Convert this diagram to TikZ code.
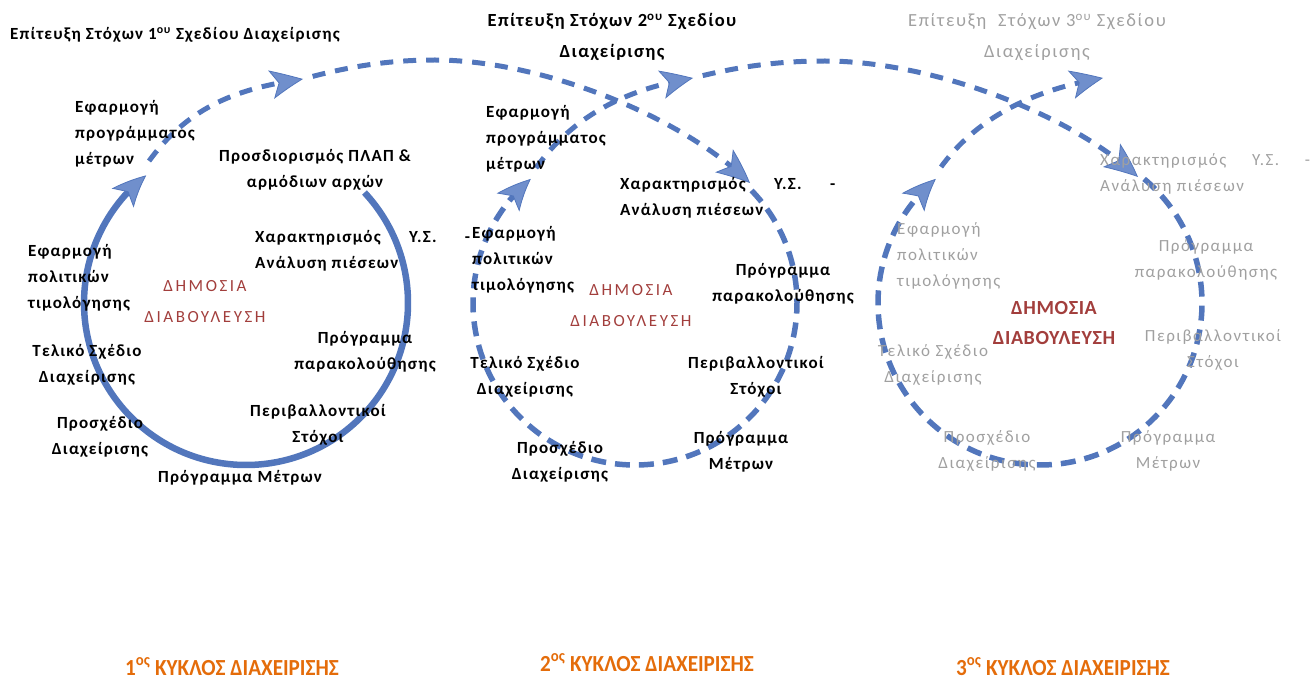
\documentclass[tikz,border=0pt]{standalone}
\usepackage{fontspec}
\setmainfont{Carlito}
\newfontfamily\widefont[LetterSpace=7]{Carlito}
\newfontfamily\thinfont[LetterSpace=9]{Carlito}
\newfontfamily\pubfont[LetterSpace=15]{Carlito}
\newfontfamily\boldpubfont[LetterSpace=3]{Carlito}
\usetikzlibrary{arrows.meta,bending}

\definecolor{ringblue}{RGB}{82,118,188}
\definecolor{tipblue}{RGB}{112,143,204}
\definecolor{pubred}{RGB}{162,62,60}
\definecolor{fadedgray}{RGB}{160,160,160}
\definecolor{cycorange}{RGB}{228,108,10}

\tikzset{
  txt/.style={font=\widefont\bfseries\fontsize{17}{26}\selectfont, inner sep=0pt, align=center},
  txtL/.style={txt, align=left, anchor=west},
  goal/.style={txt, font=\widefont\bfseries\fontsize{18.5}{31}\selectfont},
  faded/.style={text=fadedgray, font=\thinfont\mdseries\fontsize{17}{26}\selectfont},
  fadedgoal/.style={text=fadedgray, font=\thinfont\mdseries\fontsize{18.5}{31}\selectfont},
  public/.style={txt, font=\pubfont\mdseries\fontsize{17}{31}\selectfont, text=pubred},
  cyclename/.style={font=\bfseries\fontsize{23}{23}\selectfont, text=cycorange, inner sep=0pt, anchor=base},
  bigtip/.style={-{Stealth[length=33pt,width=29pt,inset=8pt,line width=0.8pt,fill=tipblue,bend]}},
  solidring/.style={ringblue, line width=6.5pt},
  dashring/.style={ringblue, line width=5.5pt, dash pattern=on 15pt off 9pt},
  bridge/.style={ringblue, line width=5pt, dash pattern=on 13pt off 10pt},
}

\begin{document}
\begin{tikzpicture}[x=1pt,y=-1pt]
\useasboundingbox (0,0) rectangle (1315,679);

% centres of the three cycles
\coordinate (c1) at (246,303);
\coordinate (c2) at (635,303);
\coordinate (c3) at (1040,303);

% the cycles
\draw[solidring, bigtip] (c1) ++(-43:162) arc[start angle=-43, end angle=232, radius=162];
\draw[dashring, bigtip] (c2) ++(-44:162) arc[start angle=-44, end angle=230, radius=162];
\draw[dashring, bigtip] (c3) ++(-50:162) arc[start angle=-50, end angle=230, radius=162];

% from one cycle to the next
\coordinate (s1) at (149,161);
\coordinate (m1) at (303,79);
\coordinate (p1) at (435,60);
\coordinate (j2) at (750,183);
\coordinate (s2) at (536,168);
\coordinate (m2) at (693,78);
\coordinate (p2) at (825,61);
\coordinate (j3) at (1138,177);
\coordinate (s3) at (941,167);
\coordinate (m3) at (1103,78);

\draw[bridge, bigtip] (s1) .. controls (190,105) and (240,88) .. (m1);
\draw[bridge, bigtip, dash phase=13pt] (m1) .. controls (350,66) and (390,60) .. (p1)
  .. controls (540,60) and (680,115) .. (j2);
\draw[bridge, bigtip] (s2) .. controls (570,120) and (620,90) .. (m2);
\draw[bridge, bigtip, dash phase=13pt] (m2) .. controls (740,66) and (780,61) .. (p2)
  .. controls (930,61) and (1070,113) .. (j3);
\draw[bridge, bigtip] (s3) .. controls (975,120) and (1030,90) .. (m3);

% 1st cycle
\node[txtL] (goal1) at (10,35) {Επίτευξη Στόχων 1\textsuperscript{ου} Σχεδίου Διαχείρισης};
\node[txtL] (mp1) at (75,134) {Εφαρμογή\\προγράμματος\\μέτρων};
\node[txt] (pl1) at (315,170) {Προσδιορισμός ΠΛΑΠ \&\\αρμόδιων αρχών};
\node[txtL] (xa1) at (255,251) {\makebox[215pt][s]{Χαρακτηρισμός Υ.Σ. -}\\Ανάλυση πιέσεων};
\node[txtL] (tp1) at (28,278) {Εφαρμογή\\πολιτικών\\τιμολόγησης};
\node[public] (dd1) at (205,302) {ΔΗΜΟΣΙΑ\\ΔΙΑΒΟΥΛΕΥΣΗ};
\node[txt] (pp1) at (365,352) {Πρόγραμμα\\παρακολούθησης};
\node[txt] (ts1) at (87,365) {Τελικό Σχέδιο\\Διαχείρισης};
\node[txt] (ps1) at (318,425) {Περιβαλλοντικοί\\Στόχοι};
\node[txt] (pr1) at (100,437) {Προσχέδιο\\Διαχείρισης};
\node[txt] (pm1) at (240,478) {Πρόγραμμα Μέτρων};

% 2nd cycle
\node[goal] (goal2) at (612,37) {Επίτευξη Στόχων 2\textsuperscript{ου} Σχεδίου\\Διαχείρισης};
\node[txtL] (mp2) at (486,139) {Εφαρμογή\\προγράμματος\\μέτρων};
\node[txtL] (xa2) at (620,198) {\makebox[215pt][s]{Χαρακτηρισμός Υ.Σ. -}\\Ανάλυση πιέσεων};
\node[txtL] (tp2) at (472,260) {Εφαρμογή\\πολιτικών\\τιμολόγησης};
\node[public] (dd2) at (631,306) {ΔΗΜΟΣΙΑ\\ΔΙΑΒΟΥΛΕΥΣΗ};
\node[txt] (pp2) at (783,284) {Πρόγραμμα\\παρακολούθησης};
\node[txt] (ts2) at (525,377) {Τελικό Σχέδιο\\Διαχείρισης};
\node[txt] (ps2) at (756,377) {Περιβαλλοντικοί\\Στόχοι};
\node[txt] (pr2) at (560,462) {Προσχέδιο\\Διαχείρισης};
\node[txt] (pm2) at (741,452) {Πρόγραμμα\\Μέτρων};

% 3rd cycle
\node[txt, fadedgoal] (goal3) at (1037,37) {Επίτευξη\ \ Στόχων 3\textsuperscript{ου} Σχεδίου\\Διαχείρισης};
\node[txtL, faded] (xa3) at (1100,174) {\makebox[210pt][s]{Χαρακτηρισμός Υ.Σ. -}\\Ανάλυση πιέσεων};
\node[txtL, faded] (tp3) at (897,256) {Εφαρμογή\\πολιτικών\\τιμολόγησης};
\node[public, font=\boldpubfont\bfseries\fontsize{20}{30}\selectfont] (dd3) at (1054,323) {ΔΗΜΟΣΙΑ\\ΔΙΑΒΟΥΛΕΥΣΗ};
\node[txt, faded] (pp3) at (1206,260) {Πρόγραμμα\\παρακολούθησης};
\node[txt, faded] (ps3) at (1213,350) {Περιβαλλοντικοί\\Στόχοι};
\node[txt, faded] (ts3) at (933,365) {Τελικό Σχέδιο\\Διαχείρισης};
\node[txt, faded] (pr3) at (987,451) {Προσχέδιο\\Διαχείρισης};
\node[txt, faded] (pm3) at (1168,451) {Πρόγραμμα\\Μέτρων};

% names of the cycles
\node[cyclename] (k1) at (232,675) {\scalebox{0.92}[1]{1\textsuperscript{ος} ΚΥΚΛΟΣ ΔΙΑΧΕΙΡΙΣΗΣ}};
\node[cyclename] (k2) at (647,671) {\scalebox{0.92}[1]{2\textsuperscript{ος} ΚΥΚΛΟΣ ΔΙΑΧΕΙΡΙΣΗΣ}};
\node[cyclename] (k3) at (1063,675) {\scalebox{0.92}[1]{3\textsuperscript{ος} ΚΥΚΛΟΣ ΔΙΑΧΕΙΡΙΣΗΣ}};

\end{tikzpicture}
\end{document}
